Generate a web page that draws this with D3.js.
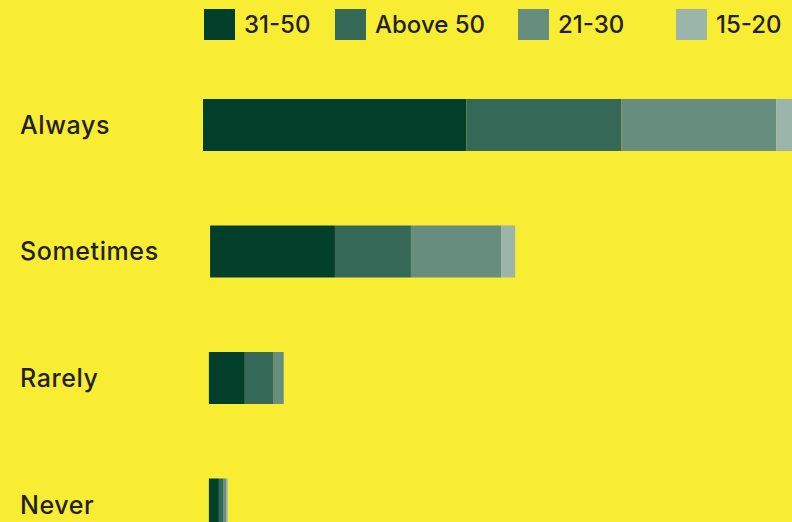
<!DOCTYPE html>
<html>
<head>
<meta charset="utf-8">
<script src="https://cdn.jsdelivr.net/npm/d3@7"></script>
<style>
  html, body { margin: 0; padding: 0; background: #F8ED32; }
  svg { display: block; }
  text { font-family: Inter, "Open Sans", sans-serif; font-weight: 500; fill: #231F20; }
</style>
</head>
<body>
<div id="chart"></div>
<script>
// Answer categories (rows) and age groups (stacked segments)
const categories = ["Always", "Sometimes", "Rarely", "Never"];
const ageGroups = ["31-50", "Above 50", "21-30", "15-20"];

// Share of respondents per age group, in percent
const age31to50 = [44.7, 21.2, 6.1, 1.7];
const above50   = [26.3, 12.9, 4.9, 0.7];
const age21to30 = [26.3, 15.3, 1.7, 0.5];
const age15to20 = [2.7, 2.4, 0.0, 0.3];
// Blank lead before each stacked bar
const leadGap   = [0.0, 1.2, 1.0, 1.0];

const seriesValues = [age31to50, above50, age21to30, age15to20];
const colors = ["#023F2B", "#356857", "#678D7E", "#9BB5AB"];

const W = 792, H = 522;
const svg = d3.select("#chart").append("svg")
  .attr("width", W).attr("height", H);

const rows = categories.map((c, i) => {
  const r = { category: c };
  ageGroups.forEach((g, j) => { r[g] = seriesValues[j][i]; });
  return r;
});
const leadOf = {};
categories.forEach((c, i) => { leadOf[c] = leadGap[i]; });

const x = d3.scaleLinear().domain([0, 100]).range([203, 792]);
const y = d3.scaleBand().domain(categories)
  .range([99, 530.5]).paddingInner(0.589).paddingOuter(0);
const color = d3.scaleOrdinal().domain(ageGroups).range(colors);

const stacked = d3.stack().keys(ageGroups)(rows);

svg.append("g").selectAll("g")
  .data(stacked)
  .join("g")
  .attr("fill", d => color(d.key))
  .selectAll("rect")
  .data(d => d)
  .join("rect")
  .attr("x", d => x(d[0] + leadOf[d.data.category]))
  .attr("y", d => y(d.data.category))
  .attr("width", d => Math.max(0, x(d[1]) - x(d[0])))
  .attr("height", y.bandwidth());

// Row labels
svg.append("g").selectAll("text")
  .data(categories)
  .join("text")
  .attr("x", 20)
  .attr("y", d => y(d) + y.bandwidth() / 2)
  .attr("dy", "0.36em")
  .attr("font-size", 25)
  .attr("letter-spacing", 0.6)
  .text(d => d);

// Legend
const legendX = [204, 335, 518, 676];
const legend = svg.append("g").selectAll("g")
  .data(ageGroups)
  .join("g")
  .attr("transform", (d, i) => `translate(${legendX[i]},9)`);
legend.append("rect")
  .attr("width", 31).attr("height", 31)
  .attr("fill", d => color(d));
legend.append("text")
  .attr("x", 40).attr("y", 24)
  .attr("font-size", 24)
  .text(d => d);
</script>
</body>
</html>
